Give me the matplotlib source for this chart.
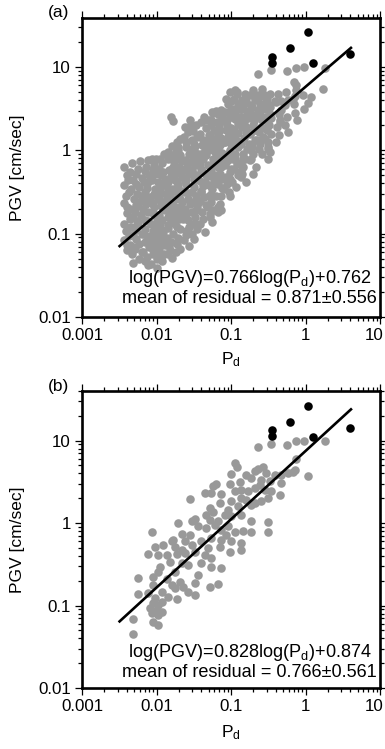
import numpy as np
import matplotlib
matplotlib.use('Agg')
import matplotlib.pyplot as plt
import matplotlib.transforms as mtransforms
from matplotlib.ticker import LogLocator, NullFormatter, FixedLocator, FixedFormatter

plt.rcParams['font.family'] = ['Liberation Sans', 'DejaVu Sans']
plt.rcParams['mathtext.fontset'] = 'custom'
plt.rcParams['mathtext.rm'] = 'Liberation Sans'
plt.rcParams['mathtext.it'] = 'Liberation Sans:italic'

# ---------------- data (log10 values) ----------------
# panel (b) events: log10(Pd), log10(PGV)
log_pd_b = [-0.637, -0.458, -0.244, -0.132, -0.020, 0.257, -0.123, -0.949, -0.914, -0.994,
            -0.793, -0.681, -0.637, -0.570, -0.525, -0.413, -0.324, -0.235, -0.168, -0.145,
            0.034, -0.726, -0.592, -0.480, -0.324, -0.882, -1.016, -1.195, -1.240, -0.614,
            -1.352, -1.262, -1.128, -0.949, -0.860, -0.771, -0.681, -0.547, -0.458, -0.346,
            -1.553, -1.151, -0.994, -0.860, -0.793, -0.681, -0.592, -0.503, -1.285, -1.039,
            -0.905, -0.726, -1.709, -1.530, -1.486, -1.329, -1.240, -1.083, -0.994, -0.860,
            -0.726, -0.503, -1.285, -1.173, -2.066, -1.776, -1.664, -1.553, -1.441, -1.329,
            -1.218, -1.128, -1.039, -0.949, -0.838, -0.726, -0.503, -1.061, -1.910, -1.798,
            -1.620, -1.530, -1.396, -1.262, -1.128, -0.994, -0.860, -2.022, -1.754, -1.664,
            -1.307, -1.151, -0.860, -1.977, -1.865, -1.731, -1.620, -1.486, -1.352, -1.262,
            -1.016, -2.111, -1.821, -1.396, -1.955, -1.664, -1.575, -1.262, -1.128, -1.977,
            -1.754, -1.441, -2.245, -2.044, -1.865, -1.687, -1.486, -2.044, -1.798, -1.285,
            -1.173, -2.245, -2.111, -1.932, -1.754, -1.642, -1.575, -1.486, -1.843, -1.731,
            -2.022, -1.932, -2.044, -1.977, -2.089, -1.999, -1.932, -2.066, -1.977, -2.312,
            -2.044, -1.977, -2.312]
log_pgv_b = [0.919, 0.960, 0.952, 0.992, 1.000, 0.992, 0.781, 0.729, 0.676, 0.595,
             0.587, 0.636, 0.660, 0.676, 0.607, 0.587, 0.587, 0.607, 0.619, 0.648,
             0.567, 0.547, 0.526, 0.514, 0.486, 0.498, 0.474, 0.474, 0.445, 0.466,
             0.364, 0.364, 0.352, 0.385, 0.405, 0.385, 0.425, 0.405, 0.385, 0.344,
             0.295, 0.243, 0.263, 0.304, 0.283, 0.243, 0.271, 0.304, 0.182, 0.162,
             0.202, 0.223, 0.000, 0.020, 0.052, 0.101, 0.133, 0.101, 0.081, 0.101,
             0.028, 0.012, 0.040, 0.020, -0.110, -0.203, -0.134, -0.142, -0.041, -0.061,
             -0.021, -0.081, -0.041, -0.102, -0.093, -0.102, -0.110, -0.142, -0.264, -0.223,
             -0.223, -0.264, -0.223, -0.183, -0.203, -0.223, -0.243, -0.284, -0.284, -0.324,
             -0.304, -0.284, -0.324, -0.385, -0.385, -0.377, -0.365, -0.345, -0.385, -0.426,
             -0.345, -0.377, -0.466, -0.486, -0.527, -0.486, -0.507, -0.527, -0.547, -0.588,
             -0.588, -0.628, -0.669, -0.648, -0.677, -0.709, -0.729, -0.750, -0.750, -0.770,
             -0.741, -0.859, -0.851, -0.831, -0.790, -0.770, -0.831, -0.871, -0.891, -0.920,
             -0.912, -0.952, -0.972, -0.993, -1.033, -1.053, -1.082, -1.094, -1.114, -1.163,
             -1.195, -1.236, -1.349]

# additional events only in panel (a): (log10 Pd, log10 PGV)
extra_a_log = [
    (-2.43, -0.20), (-2.40, -0.30), (-2.44, -0.42), (-2.41, -0.55), (-2.44, -0.63), (-2.40, -0.75),
    (-2.43, -0.88), (-2.41, -0.97), (-2.44, -1.08), (-2.40, -1.20),
    (-2.33, -0.15), (-2.35, -0.26), (-2.31, -0.36), (-2.34, -0.47), (-2.30, -0.58), (-2.35, -0.70),
    (-2.32, -0.80), (-2.34, -0.92), (-2.31, -1.02), (-2.35, -1.14), (-2.33, -1.25),
    (-2.22, -0.13), (-2.25, -0.22), (-2.20, -0.33), (-2.23, -0.44), (-2.19, -0.55), (-2.24, -0.62),
    (-2.21, -0.78), (-2.26, -0.90), (-2.20, -1.00), (-2.23, -1.12), (-2.19, -1.22), (-2.24, -1.31),
    (-2.12, -0.12), (-2.14, -0.20), (-2.10, -0.30), (-2.13, -0.45), (-2.09, -0.56), (-2.14, -0.64),
    (-2.11, -0.74), (-2.15, -0.95), (-2.12, -1.05), (-2.10, -1.16), (-2.13, -1.28), (-2.11, -1.38),
    (-2.01, -0.10), (-2.03, -0.18), (-1.99, -0.27), (-2.02, -0.47), (-1.98, -0.58), (-2.03, -0.68),
    (-2.00, -0.82), (-1.98, -0.93), (-2.02, -1.10), (-2.00, -1.30), (-1.99, -1.41),
    (-1.90, -0.05), (-1.92, -0.15), (-1.88, -0.34), (-1.91, -0.42), (-1.87, -0.52), (-1.92, -0.62),
    (-1.89, -0.72), (-1.91, -0.98), (-1.88, -1.14), (-1.90, -1.24), (-1.92, -1.33),
    (-1.80, 0.40), (-1.78, 0.35), (-1.79, 0.05), (-1.81, -0.06), (-1.77, -0.14), (-1.80, -0.31),
    (-1.78, -0.46), (-1.82, -0.53), (-1.79, -0.64), (-1.81, -0.84), (-1.78, -1.00), (-1.80, -1.10),
    (-1.82, -1.20), (-1.79, -1.29),
    (-1.69, 0.14), (-1.71, 0.04), (-1.68, -0.06), (-1.70, -0.20), (-1.67, -0.28), (-1.71, -0.42),
    (-1.69, -0.58), (-1.66, -0.62), (-1.70, -0.82), (-1.68, -0.95), (-1.71, -1.05), (-1.69, -1.18),
    (-1.55, 0.36), (-1.58, 0.22), (-1.60, 0.10), (-1.57, -0.04), (-1.59, -0.20), (-1.56, -0.28),
    (-1.60, -0.40), (-1.58, -0.58), (-1.55, -0.65), (-1.59, -0.75), (-1.57, -0.92), (-1.60, -1.02),
    (-1.56, -1.15),
    (-1.47, 0.30), (-1.45, 0.16), (-1.49, 0.08), (-1.46, -0.12), (-1.48, -0.18), (-1.45, -0.30),
    (-1.49, -0.44), (-1.47, -0.55), (-1.45, -0.68), (-1.48, -0.80), (-1.46, -0.95), (-1.49, -1.07),
    (-1.36, 0.40), (-1.34, 0.27), (-1.38, 0.12), (-1.35, 0.00), (-1.37, -0.10), (-1.34, -0.30),
    (-1.38, -0.43), (-1.36, -0.56), (-1.33, -0.66), (-1.37, -0.82), (-1.35, -0.98),
    (-1.25, 0.46), (-1.27, 0.30), (-1.23, 0.24), (-1.26, 0.06), (-1.24, -0.10), (-1.27, -0.25),
    (-1.23, -0.36), (-1.25, -0.46), (-1.27, -0.62), (-1.24, -0.72), (-1.26, -0.86),
    (-1.14, 0.48), (-1.12, 0.40), (-1.16, 0.30), (-1.13, 0.15), (-1.15, 0.06), (-1.12, -0.03),
    (-1.16, -0.15), (-1.14, -0.34), (-1.12, -0.45), (-1.15, -0.64), (-1.13, -0.72),
    (-1.01, 0.70), (-1.04, 0.55), (-1.02, 0.40), (-1.05, 0.30), (-1.03, 0.20), (-1.01, 0.00),
    (-1.04, -0.12), (-1.02, -0.26), (-1.05, -0.40), (-1.03, -0.50), (-1.01, -0.55),
    (-0.92, 0.70), (-0.90, 0.56), (-0.94, 0.45), (-0.91, 0.32), (-0.93, 0.12), (-0.90, 0.04),
    (-0.94, -0.05), (-0.92, -0.16), (-0.90, -0.30), (-0.93, -0.44),
    (-0.81, 0.68), (-0.83, 0.55), (-0.79, 0.47), (-0.82, 0.34), (-0.80, 0.22), (-0.83, 0.15),
    (-0.79, 0.02), (-0.81, -0.10), (-0.84, -0.20), (-0.80, -0.38),
    (-0.70, 0.72), (-0.68, 0.60), (-0.72, 0.52), (-0.69, 0.35), (-0.71, 0.30), (-0.68, 0.12),
    (-0.72, 0.05), (-0.70, -0.05), (-0.67, -0.20), (-0.71, -0.28),
    (-0.59, 0.74), (-0.61, 0.56), (-0.58, 0.36), (-0.60, 0.28), (-0.57, 0.16), (-0.61, 0.08),
    (-0.59, -0.05),
    (-0.48, 0.68), (-0.50, 0.56), (-0.47, 0.44), (-0.49, 0.30), (-0.46, 0.20), (-0.50, 0.10),
    (-0.48, -0.02),
    (-0.37, 0.68), (-0.39, 0.58), (-0.36, 0.44), (-0.34, 0.36), (-0.38, 0.28), (-0.36, 0.18),
    (-0.39, 0.10),
    (-0.26, 0.70), (-0.28, 0.54), (-0.25, 0.40), (-0.27, 0.30), (-0.24, 0.22),
    (-0.15, 0.82), (-0.13, 0.72), (-0.16, 0.56), (-0.14, 0.45), (-0.12, 0.36),
    (-0.04, 0.66), (-0.02, 0.50),
    (0.08, 0.64), (0.235, 0.73),
]

# further events in the dense core of panel (a): (log10 Pd, log10 PGV)
core_a_log = [
    (-2.38, -0.36), (-2.37, -0.50), (-2.39, -0.68), (-2.36, -0.82), (-2.38, -0.93), (-2.37, -1.03),
    (-2.39, -1.14),
    (-2.27, -0.28), (-2.28, -0.40), (-2.26, -0.52), (-2.27, -0.66), (-2.29, -0.74), (-2.26, -0.85),
    (-2.28, -0.96), (-2.27, -1.07), (-2.29, -1.18),
    (-2.16, -0.25), (-2.17, -0.38), (-2.15, -0.50), (-2.16, -0.60), (-2.18, -0.70), (-2.15, -0.84),
    (-2.17, -1.00), (-2.16, -1.10), (-2.18, -1.22), (-2.15, -1.33),
    (-2.05, -0.22), (-2.06, -0.36), (-2.04, -0.52), (-2.06, -0.63), (-2.05, -0.75), (-2.07, -0.88),
    (-2.04, -1.00), (-2.06, -1.16), (-2.05, -1.24), (-2.07, -1.36),
    (-1.95, -0.10), (-1.96, -0.22), (-1.94, -0.30), (-1.95, -0.47), (-1.97, -0.57), (-1.94, -0.67),
    (-1.96, -0.78), (-1.95, -0.88), (-1.93, -1.04), (-1.96, -1.19), (-1.94, -1.28),
    (-1.84, -0.02), (-1.85, -0.10), (-1.83, -0.24), (-1.85, -0.38), (-1.84, -0.48), (-1.86, -0.58),
    (-1.83, -0.70), (-1.85, -0.80), (-1.84, -0.93), (-1.86, -1.05), (-1.83, -1.15), (-1.85, -1.24),
    (-1.73, 0.10), (-1.74, -0.02), (-1.72, -0.10), (-1.73, -0.25), (-1.75, -0.36), (-1.72, -0.50),
    (-1.74, -0.68), (-1.73, -0.76), (-1.75, -0.88), (-1.72, -1.12), (-1.74, -1.22),
    (-1.62, 0.28), (-1.63, 0.16), (-1.61, 0.04), (-1.62, -0.12), (-1.64, -0.24), (-1.61, -0.35),
    (-1.63, -0.50), (-1.62, -0.70), (-1.64, -0.83), (-1.61, -0.97), (-1.63, -1.08),
    (-1.51, 0.23), (-1.52, 0.12), (-1.50, 0.00), (-1.51, -0.08), (-1.53, -0.24), (-1.50, -0.36),
    (-1.52, -0.50), (-1.51, -0.62), (-1.53, -0.74), (-1.50, -0.88), (-1.52, -1.00),
    (-1.40, 0.34), (-1.41, 0.20), (-1.39, 0.06), (-1.40, -0.05), (-1.42, -0.16), (-1.39, -0.25),
    (-1.41, -0.37), (-1.40, -0.50), (-1.42, -0.61), (-1.39, -0.74), (-1.41, -0.88),
    (-1.29, 0.36), (-1.30, 0.18), (-1.28, 0.10), (-1.29, 0.00), (-1.31, -0.18), (-1.28, -0.30),
    (-1.30, -0.42), (-1.29, -0.55), (-1.31, -0.68), (-1.28, -0.80),
    (-1.18, 0.44), (-1.19, 0.34), (-1.17, 0.20), (-1.18, 0.10), (-1.20, -0.08), (-1.17, -0.20),
    (-1.19, -0.30), (-1.18, -0.40), (-1.20, -0.55), (-1.17, -0.68),
    (-1.07, 0.62), (-1.08, 0.46), (-1.06, 0.36), (-1.07, 0.24), (-1.09, 0.10), (-1.06, -0.06),
    (-1.08, -0.18), (-1.07, -0.32), (-1.09, -0.46),
    (-0.96, 0.62), (-0.97, 0.50), (-0.95, 0.38), (-0.96, 0.24), (-0.98, 0.16), (-0.95, 0.08),
    (-0.97, -0.10), (-0.96, -0.22), (-0.98, -0.38),
    (-0.85, 0.60), (-0.86, 0.50), (-0.84, 0.40), (-0.85, 0.28), (-0.87, 0.08), (-0.84, -0.04),
    (-0.86, -0.15), (-0.85, -0.28),
    (-0.74, 0.66), (-0.75, 0.46), (-0.73, 0.40), (-0.74, 0.20), (-0.76, 0.08), (-0.73, 0.00),
    (-0.75, -0.12),
    (-0.63, 0.64), (-0.64, 0.48), (-0.62, 0.40), (-0.63, 0.22), (-0.65, 0.12), (-0.62, 0.02),
    (-0.52, 0.62), (-0.53, 0.50), (-0.51, 0.36), (-0.52, 0.24), (-0.54, 0.14), (-0.51, 0.04),
]

# large events (black)
strong_pd = [0.35, 0.352, 0.62, 1.08, 1.26, 3.92]
strong_pgv = [13.3, 11.3, 17.0, 26.5, 11.1, 14.4]

# axis tick labels
x_ticks = [0.001, 0.01, 0.1, 1, 10]
x_ticklabels = ['0.001', '0.01', '0.1', '1', '10']
y_ticks = [0.01, 0.1, 1, 10]
y_ticklabels = ['0.01', '0.1', '1', '10']

# regression coefficients shown in each panel
fit_a = (0.766, 0.762)
fit_b = (0.828, 0.874)
fit_pd_range = [0.0031, 4.2]
resid_a = (0.871, 0.556)
resid_b = (0.766, 0.561)

# ---------------- figure ----------------
W, H = 385, 749
fig = plt.figure(figsize=(W / 100, H / 100), dpi=100)

pd_b = np.power(10.0, log_pd_b)
pgv_b = np.power(10.0, log_pgv_b)
ex = np.array(extra_a_log + core_a_log)
pd_a = np.concatenate([pd_b, np.power(10.0, ex[:, 0])])
pgv_a = np.concatenate([pgv_b, np.power(10.0, ex[:, 1])])


def px_rect(left, top, right, bottom):
    return [left / W, 1 - bottom / H, (right - left) / W, (bottom - top) / H]


panels = [
    dict(rect=px_rect(82, 18, 380, 317), pd=pd_a, pgv=pgv_a, fit=fit_a, resid=resid_a,
         label='(a)', label_y=13, ytop=38.7, xlab_y=360, txt_y=(0.113, 0.046)),
    dict(rect=px_rect(82, 391, 380, 688), pd=pd_b, pgv=pgv_b, fit=fit_b, resid=resid_b,
         label='(b)', label_y=386, ytop=40.0, xlab_y=733, txt_y=(0.105, 0.038)),
]

gray = '#999999'
for p in panels:
    ax = fig.add_axes(p['rect'])
    ax.set_xscale('log')
    ax.set_yscale('log')
    ax.scatter(p['pd'], p['pgv'], s=38, c=gray, linewidths=0, zorder=2)
    ax.scatter(strong_pd, strong_pgv, s=38, c='black', linewidths=0, zorder=3)
    slope, icpt = p['fit']
    xf = np.array(fit_pd_range)
    ax.plot(xf, 10 ** (slope * np.log10(xf) + icpt), color='black', lw=1.9, zorder=4,
            solid_capstyle='butt')
    ax.set_xlim(0.001, 10)
    ax.set_ylim(0.01, p['ytop'])

    ax.xaxis.set_major_locator(FixedLocator(x_ticks))
    ax.xaxis.set_major_formatter(FixedFormatter(x_ticklabels))
    ax.yaxis.set_major_locator(FixedLocator(y_ticks))
    ax.yaxis.set_major_formatter(FixedFormatter(y_ticklabels))
    ax.xaxis.set_minor_locator(LogLocator(base=10, subs=np.arange(2, 10), numticks=20))
    ax.yaxis.set_minor_locator(LogLocator(base=10, subs=np.arange(2, 10), numticks=20))
    ax.xaxis.set_minor_formatter(NullFormatter())
    ax.yaxis.set_minor_formatter(NullFormatter())
    ax.tick_params(which='both', direction='out', top=True, right=True, width=0.9,
                   labelsize=12.2, colors='black')
    ax.tick_params(which='major', length=5, pad=3)
    ax.tick_params(which='minor', length=2.8)
    for sp in ax.spines.values():
        sp.set_linewidth(1.9)

    # keep the last x tick label ("10") inside the figure edge
    last_lbl = ax.get_xticklabels()[-1]
    offset = mtransforms.ScaledTranslation(-6 / 100, 0, fig.dpi_scale_trans)
    last_lbl.set_transform(last_lbl.get_transform() + offset)

    t1, t2 = p['txt_y']
    ax.text(0.562, t1, r'log(PGV)=%.3flog(P$_\mathrm{d}$)+%.3f' % (slope, icpt),
            transform=ax.transAxes, ha='center', va='baseline', fontsize=13.1, zorder=5)
    ax.text(0.562, t2, 'mean of residual = %.3f\u00b1%.3f' % p['resid'],
            transform=ax.transAxes, ha='center', va='baseline', fontsize=13.1, zorder=5)

    fig.text(48 / W, 1 - p['label_y'] / H, p['label'], ha='left', va='center', fontsize=12.5)
    ycen = p['rect'][1] + p['rect'][3] / 2
    fig.text(18 / W, ycen, 'PGV [cm/sec]', rotation=90, ha='center', va='center', fontsize=12.5)
    fig.text(231 / W, 1 - p['xlab_y'] / H, r'P$_\mathrm{d}$', ha='center', va='center',
             fontsize=12.5)

fig.savefig('out.png', dpi=100)
